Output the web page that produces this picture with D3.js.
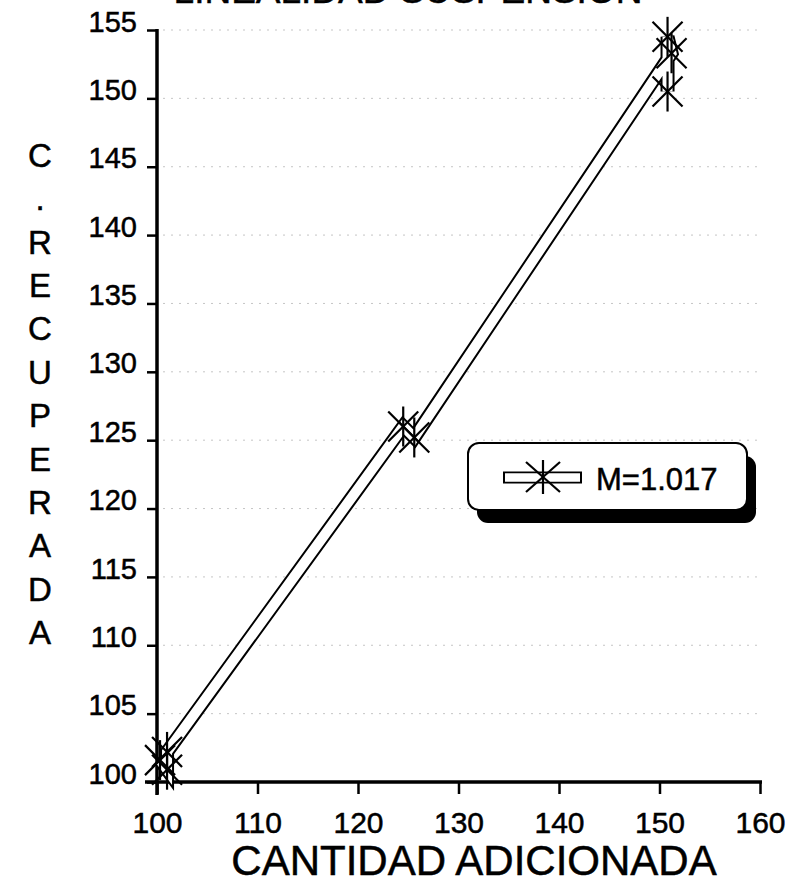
<!DOCTYPE html>
<html>
<head>
<meta charset="utf-8">
<script src="https://cdn.jsdelivr.net/npm/d3@7"></script>
<style>
  html, body { margin: 0; padding: 0; background: #fff; }
  svg { display: block; }
  text { font-family: "Liberation Sans", Arial, Helvetica, sans-serif; fill: #000; stroke: #000; stroke-width: 0.5; }
</style>
</head>
<body>
<svg id="chart" width="788" height="887"></svg>
<script>
// Text
const titleText = "LINEALIDAD SUSPENSION";
const xTitle = "CANTIDAD ADICIONADA";
const yTitleLetters = ["C", ".", "R", "E", "C", "U", "P", "E", "R", "A", "D", "A"];
const legendLabel = "M=1.017";

// Axis ticks
const xTicks = [100, 110, 120, 130, 140, 150, 160];
const yTicks = [100, 105, 110, 115, 120, 125, 130, 135, 140, 145, 150, 155];

// Added amount vs. recovered amount, in drawing order
const added     = [100.3, 101.0, 101.0, 124.5, 125.6, 151.2, 150.8, 150.8];
const recovered = [101.6, 100.9, 102.2, 126.0, 125.2, 153.3, 154.5, 150.5];

const svg = d3.select("#chart");
svg.append("rect").attr("width", 788).attr("height", 887).attr("fill", "#fff");

const x = d3.scaleLinear().domain([100, 160]).range([157, 760]);
const y = d3.scaleLinear().domain([100, 155]).range([782, 30]);

// Faint dotted gridlines
svg.append("g")
  .selectAll("line")
  .data(yTicks.slice(1))
  .join("line")
  .attr("x1", x(100) + 6).attr("x2", x(160))
  .attr("y1", d => y(d)).attr("y2", d => y(d))
  .attr("stroke", "#a8a8a8")
  .attr("stroke-width", 1)
  .attr("stroke-dasharray", "2 6")
  .attr("opacity", 0.65);

// Title (sits mostly above the top edge)
svg.append("text")
  .attr("x", 408).attr("y", 3)
  .attr("text-anchor", "middle")
  .attr("font-size", 37)
  .text(titleText);

// Y axis
const yAxis = svg.append("g")
  .attr("transform", `translate(${x(100)},0)`)
  .call(d3.axisLeft(y).tickValues(yTicks).tickSize(10).tickSizeOuter(0).tickPadding(10));
yAxis.select(".domain").remove();
yAxis.selectAll(".tick line").attr("stroke", "#000").attr("stroke-width", 2.5);
yAxis.selectAll(".tick text")
  .attr("font-size", 29)
  .attr("font-family", "Liberation Sans, Arial, sans-serif")
  .attr("x", -20)
  .attr("dy", "0.04em");
svg.append("line")
  .attr("x1", x(100)).attr("x2", x(100))
  .attr("y1", y(155) - 1).attr("y2", y(100) + 13)
  .attr("stroke", "#000").attr("stroke-width", 3.5);

// X axis
const xAxis = svg.append("g")
  .attr("transform", `translate(0,${y(100)})`)
  .call(d3.axisBottom(x).tickValues(xTicks).tickSize(12).tickSizeOuter(0));
xAxis.select(".domain").remove();
xAxis.selectAll(".tick line").attr("stroke", "#000").attr("stroke-width", 2.5);
xAxis.selectAll(".tick text")
  .attr("font-size", 30)
  .attr("font-family", "Liberation Sans, Arial, sans-serif")
  .attr("y", 51)
  .attr("dy", 0);
svg.append("line")
  .attr("x1", x(100) - 12).attr("x2", x(160) + 2)
  .attr("y1", y(100)).attr("y2", y(100))
  .attr("stroke", "#000").attr("stroke-width", 3.5);

// Axis titles
svg.append("text")
  .attr("x", 474).attr("y", 875)
  .attr("text-anchor", "middle")
  .attr("font-size", 42)
  .text(xTitle);

svg.append("g")
  .selectAll("text")
  .data(yTitleLetters)
  .join("text")
  .attr("x", 40)
  .attr("y", (d, i) => 155 + i * 43.4)
  .attr("dy", "0.36em")
  .attr("text-anchor", "middle")
  .attr("font-size", 33)
  .text(d => d);

// Hollow (outlined) data line
const pts = added.map((a, i) => [a, recovered[i]]);
const line = d3.line().x(d => x(d[0])).y(d => y(d[1]));
const lineG = svg.append("g");
lineG.append("path").attr("d", line(pts))
  .attr("fill", "none").attr("stroke", "#000").attr("stroke-width", 14);
lineG.append("path").attr("d", line(pts))
  .attr("fill", "none").attr("stroke", "#fff").attr("stroke-width", 10);

// Asterisk markers
function asterisk(g, rv, rdx, rdy) {
  g.append("line").attr("x1", 0).attr("x2", 0).attr("y1", -rv).attr("y2", rv);
  g.append("line").attr("x1", -rdx).attr("x2", rdx).attr("y1", -rdy).attr("y2", rdy);
  g.append("line").attr("x1", -rdx).attr("x2", rdx).attr("y1", rdy).attr("y2", -rdy);
  g.selectAll("line").attr("stroke", "#000").attr("stroke-width", 2.2);
}
svg.append("g")
  .selectAll("g")
  .data(pts)
  .join("g")
  .attr("transform", d => `translate(${x(d[0])},${y(d[1])})`)
  .each(function () { asterisk(d3.select(this), 20, 15, 15); });

// Legend with drop shadow
const legend = svg.append("g");
legend.append("rect")
  .attr("x", 477).attr("y", 456).attr("width", 279).attr("height", 67)
  .attr("rx", 11).attr("fill", "#000");
legend.append("rect")
  .attr("x", 468).attr("y", 443).attr("width", 279).attr("height", 67)
  .attr("rx", 11).attr("fill", "#fff").attr("stroke", "#000").attr("stroke-width", 2);
legend.append("line")
  .attr("x1", 503).attr("x2", 582).attr("y1", 477.5).attr("y2", 477.5)
  .attr("stroke", "#000").attr("stroke-width", 12);
legend.append("line")
  .attr("x1", 505).attr("x2", 580).attr("y1", 477.5).attr("y2", 477.5)
  .attr("stroke", "#fff").attr("stroke-width", 8.5);
asterisk(legend.append("g").attr("transform", "translate(543,477)"), 17, 17, 15);
legend.append("text")
  .attr("x", 596).attr("y", 490)
  .attr("font-size", 31)
  .text(legendLabel);
</script>
</body>
</html>
